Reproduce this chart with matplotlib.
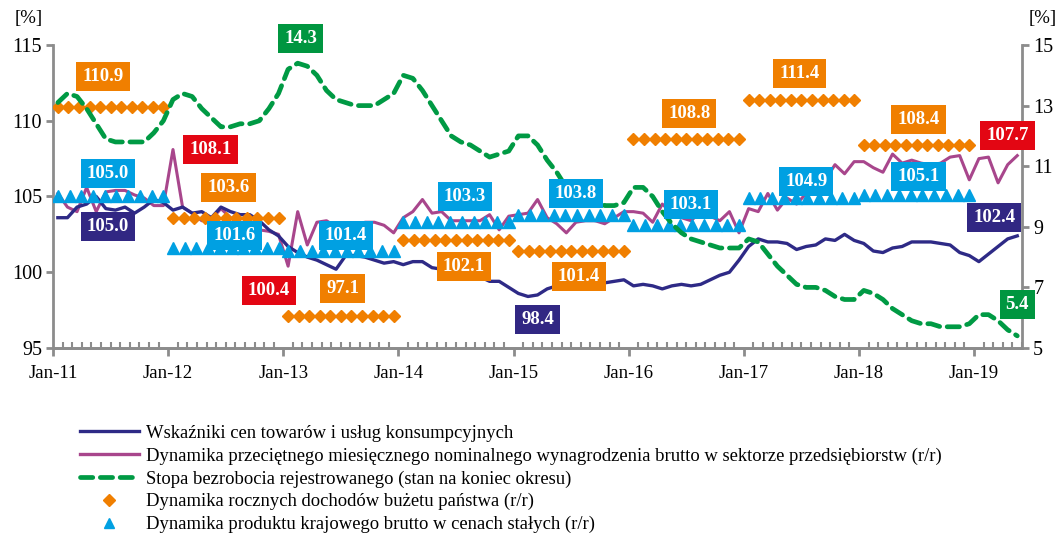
import numpy as np
import matplotlib
matplotlib.use("Agg")
import matplotlib.pyplot as plt
from matplotlib.lines import Line2D

plt.rcParams['font.family'] = ['Liberation Serif', 'DejaVu Serif']

# monthly data Jan-11 .. May-19
cpi = [103.6, 103.6, 104.3, 104.5, 105.0, 104.2, 104.1, 104.3, 103.9, 104.3, 104.8, 104.6,
       104.1, 104.3, 103.9, 104.0, 103.6, 104.3, 104.0, 103.8, 103.8, 103.4, 102.8, 102.4,
       101.7, 101.3, 101.0, 100.8, 100.5, 100.2, 101.1, 101.1, 101.0, 100.8, 100.6, 100.7,
       100.5, 100.7, 100.7, 100.3, 100.2, 100.3, 99.8, 99.7, 99.7, 99.4, 99.4, 99.0,
       98.6, 98.4, 98.5, 98.9, 99.1, 99.2, 99.3, 99.4, 99.2, 99.3, 99.4, 99.5,
       99.1, 99.2, 99.1, 98.9, 99.1, 99.2, 99.1, 99.2, 99.5, 99.8, 100.0, 100.8,
       101.7, 102.2, 102.0, 102.0, 101.9, 101.5, 101.7, 101.8, 102.2, 102.1, 102.5, 102.1,
       101.9, 101.4, 101.3, 101.6, 101.7, 102.0, 102.0, 102.0, 101.9, 101.8, 101.3, 101.1,
       100.7, 101.2, 101.7, 102.2, 102.4]
wages = [105.2, 104.3, 104.0, 105.6, 104.0, 105.3, 105.4, 105.4, 105.1, 104.9, 104.4, 104.4,
         108.1, 104.3, 103.9, 103.4, 103.5, 104.2, 103.6, 103.3, 103.0, 102.8, 102.7, 102.5,
         100.4, 104.0, 101.8, 103.3, 103.4, 103.0, 103.2, 102.8, 103.3, 103.3, 103.1, 102.6,
         103.6, 104.0, 104.8, 103.9, 104.0, 103.4, 103.4, 103.4, 103.4, 103.8, 102.8, 103.7,
         103.8, 103.9, 104.8, 103.6, 103.2, 102.6, 103.3, 103.4, 103.4, 103.2, 103.6, 104.0,
         104.0, 103.9, 103.3, 104.5, 103.9, 103.6, 103.4, 104.0, 103.7, 103.4, 104.0, 102.6,
         104.2, 104.0, 105.2, 104.1, 104.9, 104.5, 105.2, 105.3, 106.1, 107.1, 106.5, 107.3,
         107.3, 106.9, 106.6, 107.8, 107.2, 107.4, 107.2, 107.1, 107.2, 107.6, 107.7, 106.1,
         107.5, 107.6, 105.9, 107.1, 107.7]
unemployment = [13.1, 13.4, 13.3, 12.9, 12.4, 11.9, 11.8, 11.8, 11.8, 11.8, 12.1, 12.5,
                13.2, 13.4, 13.3, 12.9, 12.6, 12.3, 12.3, 12.4, 12.4, 12.5, 12.9, 13.4,
                14.2, 14.4, 14.3, 14.0, 13.5, 13.2, 13.1, 13.0, 13.0, 13.0, 13.2, 13.4,
                14.0, 13.9, 13.5, 13.0, 12.5, 12.0, 11.8, 11.7, 11.5, 11.3, 11.4, 11.5,
                12.0, 12.0, 11.7, 11.2, 10.8, 10.3, 10.1, 10.0, 9.9, 9.7, 9.7, 9.8,
                10.3, 10.3, 10.0, 9.5, 9.1, 8.8, 8.6, 8.5, 8.4, 8.3, 8.3, 8.3,
                8.6, 8.5, 8.1, 7.7, 7.4, 7.1, 7.0, 7.0, 6.9, 6.7, 6.6, 6.6,
                6.9, 6.8, 6.6, 6.3, 6.1, 5.9, 5.8, 5.8, 5.7, 5.7, 5.7, 5.8,
                6.1, 6.1, 5.9, 5.6, 5.4]

# annual data 2011 .. 2018
budget = [110.9, 103.6, 97.1, 102.1, 101.4, 108.8, 111.4, 108.4]
gdp = [105.0, 101.6, 101.4, 103.3, 103.8, 103.1, 104.9, 105.1]

xticklabels = ['Jan-11', 'Jan-12', 'Jan-13', 'Jan-14', 'Jan-15', 'Jan-16', 'Jan-17', 'Jan-18', 'Jan-19']

legend_labels = [
    'Wskaźniki cen towarów i usług konsumpcyjnych',
    'Dynamika przeciętnego miesięcznego nominalnego wynagrodzenia brutto w sektorze przedsiębiorstw (r/r)',
    'Stopa bezrobocia rejestrowanego (stan na koniec okresu)',
    'Dynamika rocznych dochodów bużetu państwa (r/r)',
    'Dynamika produktu krajowego brutto w cenach stałych (r/r)',
]

# callout boxes: text, colour, (x in months, y in left axis units)
callouts = [
    ('110.9', '#F07F00', 5.2, 112.9), ('14.3', '#009640', 25.8, 115.4),
    ('108.1', '#E30613', 16.4, 108.1), ('105.0', '#00A0E2', 5.7, 106.5),
    ('103.6', '#F07F00', 18.3, 105.6), ('105.0', '#312783', 5.7, 103.05),
    ('101.6', '#00A0E2', 18.9, 102.4), ('100.4', '#E30613', 22.5, 98.8),
    ('97.1', '#F07F00', 30.2, 98.9), ('101.4', '#00A0E2', 30.5, 102.45),
    ('103.3', '#00A0E2', 42.9, 105.0), ('102.1', '#F07F00', 42.8, 100.35),
    ('98.4', '#312783', 50.5, 96.85), ('103.8', '#00A0E2', 54.5, 105.2),
    ('101.4', '#F07F00', 54.8, 99.7), ('108.8', '#F07F00', 66.3, 110.5),
    ('103.1', '#00A0E2', 66.5, 104.45), ('111.4', '#F07F00', 77.8, 113.1),
    ('104.9', '#00A0E2', 78.5, 106.0), ('108.4', '#F07F00', 90.2, 110.1),
    ('105.1', '#00A0E2', 90.2, 106.35), ('107.7', '#E30613', 99.5, 109.0),
    ('102.4', '#312783', 98.1, 103.6), ('5.4', '#009640', 100.5, 97.85),
]

navy = '#2E2A86'
magenta = '#A8468C'
green = '#009A44'
orange = '#F07F00'
blue = '#00A0E2'
gray = '#8C8C8C'

fig = plt.figure(figsize=(10.61, 5.39), dpi=100)
ax = fig.add_axes([0.050, 0.3544, 0.9133, 0.5621])
ax2 = ax.twinx()

x = np.arange(len(cpi)) + 0.5

ax.plot(x, cpi, color=navy, lw=2.4, zorder=3)
ax.plot(x, wages, color=magenta, lw=2.2, zorder=2)

for i, v in enumerate(budget):
    xs = np.linspace(12 * i + 0.5, 12 * i + 11.5, 11)
    ax.plot(xs, [v] * len(xs), ls='none', marker='D', ms=6.5, color=orange, mec=orange, zorder=4)
for i, v in enumerate(gdp):
    xs = np.linspace(12 * i + 0.5, 12 * i + 11.5, 10)
    ax.plot(xs, [v] * len(xs), ls='none', marker='^', ms=9, color=blue, mec=blue, zorder=4)

ax2.plot(x, unemployment, color=green, lw=3.4, ls=(0, (2.6, 1.6)), dash_capstyle='round', zorder=3)

ax.set_xlim(0, 101)
ax.set_ylim(95, 115)
ax2.set_ylim(5, 15)
ax.set_yticks([95, 100, 105, 110, 115])
ax2.set_yticks([5, 7, 9, 11, 13, 15])
ax.set_xticks(np.arange(0, 97, 12))
ax.set_xticklabels(xticklabels)
ax.set_xticks(np.arange(0, 102, 1), minor=True)

for a in (ax, ax2):
    for s in a.spines.values():
        s.set_color(gray)
        s.set_linewidth(2)
    a.spines['top'].set_visible(False)
ax.spines['right'].set_visible(False)
ax2.spines['left'].set_visible(False)

ax.tick_params(axis='y', direction='out', length=5, width=2, color=gray, labelsize=14.5, pad=3)
ax2.tick_params(axis='y', direction='out', length=5, width=2, color=gray, labelsize=14.5, pad=3)
ax.tick_params(axis='x', which='major', direction='out', length=6, width=2, color=gray, labelsize=13.5, pad=6)
ax.tick_params(axis='x', which='minor', direction='in', length=4, width=1.5, color=gray)

fig.text(0.027, 0.965, '[%]', fontsize=13.5, ha='center', va='center')
fig.text(0.983, 0.965, '[%]', fontsize=13.5, ha='center', va='center')

for txt, col, cx, cy in callouts:
    ax2.text(cx, cy, txt, transform=ax.transData, ha='center', va='center', color='white',
             fontsize=13.5, fontweight='bold', zorder=10, clip_on=False,
             bbox=dict(boxstyle='square,pad=0.32', fc=col, ec='none'))

handles = [
    Line2D([], [], color=navy, lw=2.4),
    Line2D([], [], color=magenta, lw=2.4),
    Line2D([], [], color=green, lw=3.4, ls=(0, (2.6, 1.6)), dash_capstyle='round'),
    Line2D([], [], ls='none', marker='D', ms=6, color=orange),
    Line2D([], [], ls='none', marker='^', ms=7, color=blue),
]
fig.legend(handles, legend_labels, loc='upper left', bbox_to_anchor=(0.0754, 0.212),
           frameon=False, fontsize=13.4, handlelength=3.15, handletextpad=0.4,
           labelspacing=0.3, borderpad=0, borderaxespad=0)

fig.savefig('out.png', dpi=100)
